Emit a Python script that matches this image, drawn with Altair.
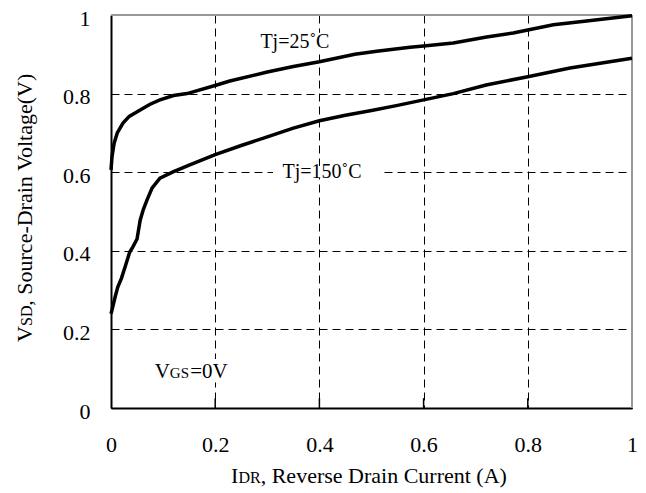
import altair as alt
import pandas as pd

FONT = "Liberation Serif"

# ---- data ----
x25 = [0, 0.002, 0.006, 0.012, 0.023, 0.035, 0.056, 0.075, 0.094, 0.12, 0.146, 0.203, 0.228, 0.30,
       0.35, 0.40, 0.468, 0.51, 0.574, 0.60, 0.657, 0.721, 0.772, 0.80, 0.849, 0.913, 1.0]
y25 = [0.606, 0.64, 0.674, 0.70, 0.725, 0.742, 0.758, 0.773, 0.784, 0.795, 0.80, 0.822, 0.832, 0.855,
       0.869, 0.881, 0.900, 0.908, 0.918, 0.921, 0.929, 0.944, 0.954, 0.962, 0.975, 0.985, 0.998]

x150 = [0, 0.002, 0.008, 0.013, 0.020, 0.027, 0.036, 0.042, 0.050, 0.056, 0.062, 0.069, 0.079, 0.094,
        0.119, 0.15, 0.20, 0.25, 0.30, 0.35, 0.40, 0.45, 0.50, 0.55, 0.60, 0.657, 0.72, 0.80, 0.881, 1.0]
y150 = [0.24, 0.25, 0.283, 0.308, 0.33, 0.359, 0.397, 0.41, 0.43, 0.478, 0.505, 0.529, 0.56, 0.585,
        0.601, 0.618, 0.645, 0.668, 0.69, 0.712, 0.731, 0.745, 0.757, 0.770, 0.784, 0.80, 0.822, 0.843,
        0.865, 0.89]

tick_values = [0, 0.2, 0.4, 0.6, 0.8, 1.0]
inner_ticks = [0.2, 0.4, 0.6, 0.8]

curves = pd.DataFrame(
    {"x": x25 + x150,
     "y": y25 + y150,
     "series": ["Tj=25˚C"] * len(x25) + ["Tj=150˚C"] * len(x150)}
)

xs = alt.Scale(domain=[0, 1], nice=False, zero=False)
ys = alt.Scale(domain=[0, 1], nice=False, zero=False)

xaxis = alt.Axis(values=tick_values, format="~g", title=None, grid=True, gridDash=[8, 5],
                 gridColor="black", gridWidth=1, tickSize=0, domainColor="black", domainWidth=2,
                 labelFont=FONT, labelFontSize=22, labelColor="black", labelPadding=26,
                 labelFlush=False)
yaxis = alt.Axis(values=tick_values, format="~g", title=None, grid=True, gridDash=[8, 5],
                 gridColor="black", gridWidth=1, tickSize=0, domainColor="black", domainWidth=2,
                 labelFont=FONT, labelFontSize=22, labelColor="black", labelPadding=21,
                 labelOffset=3, labelFlush=False)

lines = alt.Chart(curves).mark_line(color="black", strokeWidth=3.5).encode(
    x=alt.X("x:Q", scale=xs, axis=xaxis),
    y=alt.Y("y:Q", scale=ys, axis=yaxis),
    detail="series:N",
)

# inner ticks on the x axis
ticks = alt.Chart(pd.DataFrame({"x": inner_ticks, "y0": [0] * 4, "y1": [0.025] * 4})).mark_rule(
    color="black", strokeWidth=1.5).encode(
    x=alt.X("x:Q", scale=xs), y=alt.Y("y0:Q", scale=ys), y2="y1:Q")

# gray frame top and right
frame_top = alt.Chart(pd.DataFrame({"y": [1.0]})).mark_rule(color="#999999", strokeWidth=2).encode(
    y=alt.Y("y:Q", scale=ys))
frame_right = alt.Chart(pd.DataFrame({"x": [1.0]})).mark_rule(color="#999999", strokeWidth=2).encode(
    x=alt.X("x:Q", scale=xs))

# white boxes behind the labels that sit on grid lines
box = alt.Chart(pd.DataFrame({"x0": [0.311, 0.08, 0.27], "x1": [0.516, 0.225, 0.43],
                              "y0": [0.585, 0.065, 0.91], "y1": [0.616, 0.125, 0.955]})).mark_rect(
    color="white").encode(x=alt.X("x0:Q", scale=xs), x2="x1:Q", y=alt.Y("y0:Q", scale=ys), y2="y1:Q")

ann_text = ["Tj=25˚C", "Tj=150˚C"]
ann_x = [0.353, 0.405]
ann_y = [0.931, 0.60]
ann = alt.Chart(pd.DataFrame({"t": ann_text, "x": ann_x, "y": ann_y})).mark_text(
    font=FONT, fontSize=20, color="black", align="center", baseline="middle").encode(
    x=alt.X("x:Q", scale=xs), y=alt.Y("y:Q", scale=ys), text="t:N")

vgs_parts = ["V", "GS", "=0V"]
vgs_x = [0.084, 0.113, 0.152]
vgs_size = [21, 15, 21]
vgs = alt.Chart(pd.DataFrame({"t": vgs_parts, "x": vgs_x, "y": [0.077] * 3, "s": vgs_size})).mark_text(
    font=FONT, color="black", align="left", baseline="alphabetic").encode(
    x=alt.X("x:Q", scale=xs), y=alt.Y("y:Q", scale=ys), text="t:N",
    size=alt.Size("s:Q", scale=None, legend=None))

# axis titles with smaller subscript parts (pixel positions relative to plot area)
def ptext(t, x, y, size, angle=0):
    return alt.Chart(pd.DataFrame({"t": [t]})).mark_text(
        font=FONT, fontSize=size, color="black", align="left", baseline="alphabetic", angle=angle
    ).encode(x=alt.value(x), y=alt.value(y), text="t:N")

xt1 = ptext("I", 120, 468, 22)
xt2 = ptext("DR", 127.5, 468, 16)
xt3 = ptext(", Reverse Drain Current (A)", 149.7, 468, 22)

yt1 = ptext("V", -79, 327, 22, 270)
yt2 = ptext("SD", -79, 311, 16, 270)
yt3 = ptext(", Source-Drain Voltage(V)", -79, 290.7, 22, 270)

chart = alt.layer(
    box, ticks, frame_top, frame_right, lines, ann, vgs, xt1, xt2, xt3, yt1, yt2, yt3
).properties(
    width=521, height=393,
    padding={"left": 111, "top": 15, "right": 14, "bottom": 85},
    autosize=alt.AutoSizeParams(type="none"),
).configure_view(stroke=None).configure(background="white")

chart.save("out.html", embed_options={"renderer": "svg", "actions": False})
